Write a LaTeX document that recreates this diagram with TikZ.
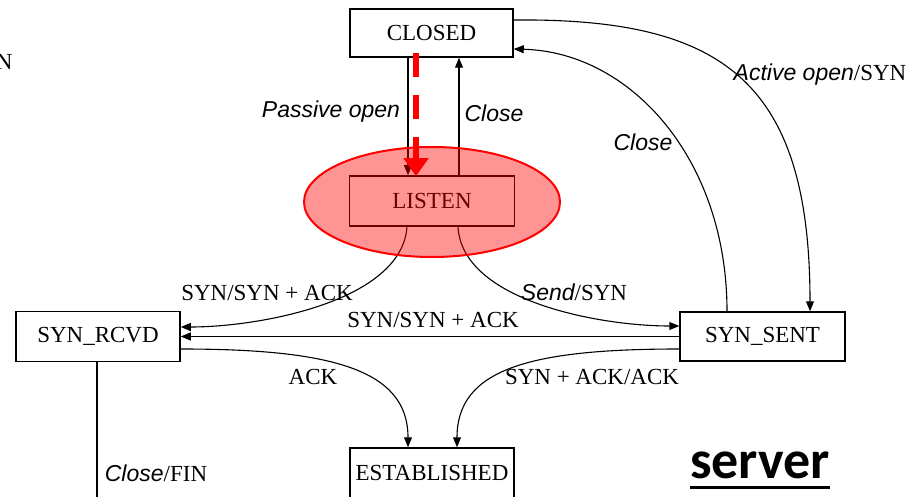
\documentclass[tikz,border=0pt]{standalone}
\usepackage{fontspec}
\setmainfont{Liberation Serif}
\setsansfont{Liberation Sans}
\newfontfamily\calfont{Carlito}
\usetikzlibrary{arrows.meta,shapes.geometric}
\begin{document}
\begin{tikzpicture}[x=0.5pt,y=-0.5pt,
  state/.style={draw, line width=0.75pt, rectangle, minimum width=82pt, minimum height=24.5pt, inner sep=0pt, font=\fontsize{11.5}{13}\selectfont},
  lbl/.style={inner sep=0pt, font=\fontsize{11.5}{13}\selectfont},
  conn/.style={line width=0.55pt, -{Triangle[length=5pt,width=4pt]}},
  plain/.style={line width=0.55pt},
  hilite/.style={ellipse, draw=red, line width=1pt, fill=red, fill opacity=0.42, minimum width=128pt, minimum height=55pt, inner sep=0pt},
  redarrow/.style={red, line width=3pt, dash pattern=on 12pt off 9pt, -{Triangle[length=9pt,width=12pt]}}]
\useasboundingbox (0,0) rectangle (920,497);
\clip (0,0) rectangle (920,497);
\fill[white] (0,0) rectangle (920,497);

% states
\node[state, minimum width=81.5pt, minimum height=24pt] (closed) at (431.5,33) {CLOSED};
\node[state, minimum width=82.5pt, minimum height=25pt] (listen) at (432,201) {LISTEN};
\node[state, minimum width=82pt, minimum height=25pt] (rcvd) at (98,336.5) {SYN\_RCVD};
\node[state, minimum width=82.5pt, minimum height=24.5pt] (sent) at (762.5,336.5) {SYN\_SENT};
\node[state, minimum height=25pt] (est) at (432,473) {ESTABLISHED};

% connectors
\draw[conn] ([xshift=-11.75pt]closed.south) -- ([xshift=-12pt]listen.north);
\draw[conn] ([xshift=13.5pt]listen.north) -- ([xshift=13.75pt]closed.south);
\draw[conn] ([yshift=6.5pt]closed.east) .. controls +(207,-2) and +(0,-232) .. ([xshift=23.75pt]sent.north);
\draw[conn] ([xshift=-17.75pt]sent.north) .. controls +(0,-152) and +(117,3) .. ([yshift=-8pt]closed.east);
\draw[conn] ([xshift=-12.5pt]listen.south) .. controls +(-5,74) and +(80,0) .. ([yshift=4.75pt]rcvd.east);
\draw[conn] ([xshift=13pt]listen.south) .. controls +(4,74) and +(-80,0) .. ([yshift=5.25pt]sent.west);
\draw[conn] (sent.west) -- (rcvd.east);
\draw[conn] ([yshift=-6.25pt]rcvd.east) .. controls +(150,0) and +(0,-78) .. ([xshift=-12pt]est.north);
\draw[conn] ([yshift=-6.25pt]sent.west) .. controls +(-150,0) and +(0,-78) .. ([xshift=12.5pt]est.north);
\coordinate (finend) at (97,530);
\draw[plain] ([xshift=-0.5pt]rcvd.south) -- ([xshift=-0.5pt]rcvd.south |- finend);

% highlight
\node[hilite] (hl) at (432,202) {};
\draw[redarrow] ([xshift=-7.75pt,yshift=2.5pt]closed.south) -- ([xshift=-8pt,yshift=-0.5pt]listen.north);

% labels
\node[lbl] (lpo) at (331,112) {\sffamily\itshape Passive open};
\node[lbl] (lcl1) at (494,113) {\sffamily\itshape Close};
\node[lbl] (lcl2) at (643,142) {\sffamily\itshape Close};
\node[lbl] (lao) at (820,75) {{\sffamily\itshape Active open}/SYN};
\node[lbl] (lss1) at (267,293) {SYN/SYN + ACK};
\node[lbl] (lsend) at (574,292) {{\sffamily\itshape Send}/SYN};
\node[lbl] (lss2) at (433,320) {SYN/SYN + ACK};
\node[lbl] (lack) at (313,377) {ACK};
\node[lbl] (lsa) at (592,377) {SYN + ACK/ACK};
\node[lbl] (lfin) at (156,473) {{\sffamily\itshape Close}/FIN};
\node[lbl, anchor=west] (ln) at (-4.6,62) {N};

\node[inner sep=0pt, anchor=base, font=\calfont\bfseries\fontsize{27}{30}\selectfont] (srv) at (760,478) {server};
\draw[line width=1.5pt] ([yshift=-4.5pt]srv.base west) -- ([yshift=-4.5pt]srv.base east);
\end{tikzpicture}
\end{document}
